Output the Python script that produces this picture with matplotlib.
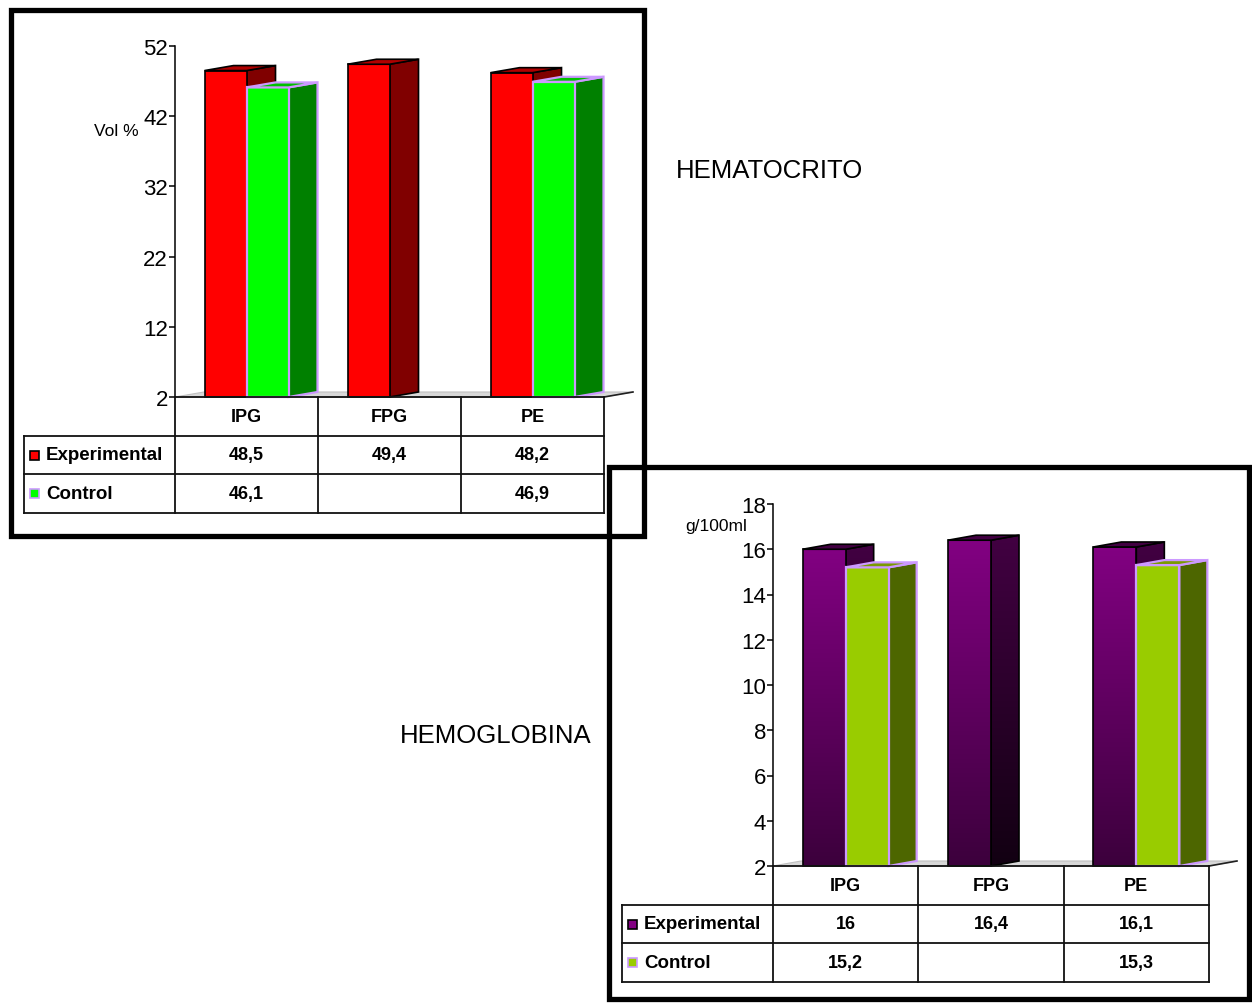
import numpy as np
import matplotlib
matplotlib.use("Agg")
import matplotlib.pyplot as plt
from matplotlib.patches import Polygon, Rectangle
from matplotlib.colors import LinearSegmentedColormap

plt.rcParams['font.family'] = ['Liberation Sans', 'DejaVu Sans']

W, H = 1252, 1004

categories = ["IPG", "FPG", "PE"]
series = ["Experimental", "Control"]

hto_exp = [48.5, 49.4, 48.2]
hto_ctl = [46.1, None, 46.9]
hto_ticks = [2, 12, 22, 32, 42, 52]

hb_exp = [16.0, 16.4, 16.1]
hb_ctl = [15.2, None, 15.3]
hb_ticks = [2, 4, 6, 8, 10, 12, 14, 16, 18]


def fmt(v):
    if v is None:
        return ""
    s = ("%.1f" % v).rstrip("0").rstrip(".")
    return s.replace(".", ",")


def px_axes(fig, x0, y0, x1, y1):
    # axes placed in pixel coordinates (origin top-left)
    return fig.add_axes([x0 / W, 1 - y1 / H, (x1 - x0) / W, (y1 - y0) / H])


def depth(ax, dxp, dyp):
    # convert a screen offset in pixels into data units
    x0, y0 = ax.transData.transform((0, 0))
    x1, y1 = ax.transData.inverted().transform((x0 + dxp, y0 + dyp))
    return x1, y1


def shaded(ax, verts, c_top, c_bot, edge, lw, z, base):
    poly = Polygon(verts, closed=True, facecolor="none", edgecolor=edge,
                   lw=lw, zorder=z + 0.5, clip_on=False, joinstyle="miter")
    ax.add_patch(poly)
    clip = Polygon(verts, closed=True, facecolor="none", edgecolor="none",
                   transform=ax.transData)
    xs = [v[0] for v in verts]
    ys = [v[1] for v in verts]
    cmap = LinearSegmentedColormap.from_list("g", [c_bot, c_top])
    grad = np.linspace(0, 1, 256).reshape(-1, 1)
    im = ax.imshow(grad, cmap=cmap, origin="lower", aspect="auto",
                   extent=[min(xs), max(xs), base, max(ys)], zorder=z,
                   interpolation="bilinear")
    im.set_clip_path(clip)


def box(ax, xl, w, base, top, dx, dy, st, z):
    front, side, lid, edge, lw = st["front"], st["side"], st["lid"], st["edge"], st["lw"]
    f = [(xl, base), (xl + w, base), (xl + w, top), (xl, top)]
    s = [(xl + w, base), (xl + w + dx, base + dy), (xl + w + dx, top + dy), (xl + w, top)]
    t = [(xl, top), (xl + w, top), (xl + w + dx, top + dy), (xl + dx, top + dy)]
    if isinstance(front, tuple):
        shaded(ax, s, side[0], side[1], edge, lw, z, base)
        shaded(ax, f, front[0], front[1], edge, lw, z + 1, base)
    else:
        ax.add_patch(Polygon(s, closed=True, fc=side, ec=edge, lw=lw, zorder=z,
                             clip_on=False, joinstyle="miter"))
        ax.add_patch(Polygon(f, closed=True, fc=front, ec=edge, lw=lw, zorder=z + 1,
                             clip_on=False, joinstyle="miter"))
    ax.add_patch(Polygon(t, closed=True, fc=lid, ec=edge, lw=lw, zorder=z + 1.6,
                         clip_on=False, joinstyle="miter"))


def chart(fig, box_px, table_px, ticks, exp, ctl, styles, ylabel, ylabel_xy, bar_px, dep_px):
    x0, y0, x1, y1 = box_px
    ax = px_axes(fig, x0, y0, x1, y1)
    ax.set_xlim(-0.5, len(categories) - 0.5)
    ax.set_ylim(ticks[0], ticks[-1])
    ax.set_autoscale_on(False)
    for sp in ["top", "right", "bottom"]:
        ax.spines[sp].set_visible(False)
    ax.spines["left"].set_linewidth(1.1)
    ax.set_xticks([])
    ax.set_yticks(ticks)
    ax.tick_params(axis="y", direction="out", length=4, width=1.1, pad=1, labelsize=16)
    ax.patch.set_alpha(0)

    colw = (x1 - x0) / len(categories)
    w = bar_px / colw
    dx, dy = depth(ax, dep_px[0], dep_px[1])
    base = ticks[0]
    dyv = dy - ax.transData.inverted().transform(ax.transData.transform((0, 0)))[1]

    # floor plane
    left, right = -0.5, len(categories) - 0.5
    ax.add_patch(Polygon([(left, base), (right, base), (right + dx, base + dyv),
                          (left + dx, base + dyv)], closed=True, fc="#d8d8d8",
                         ec="#c0c0c0", lw=0.8, zorder=1, clip_on=False))
    ax.plot([right, right + dx], [base, base + dyv], color="#202020", lw=1.2,
            zorder=1.2, clip_on=False)

    for i in range(len(categories)):
        box(ax, i - w, w, base, exp[i], dx, dyv, styles[0], 3)
        if ctl[i] is not None:
            box(ax, i, w, base, ctl[i], dx, dyv, styles[1], 6)

    fig.text(ylabel_xy[0] / W, 1 - ylabel_xy[1] / H, ylabel, fontsize=12.5,
             ha="center", va="center")

    # data table under the chart
    tx0, ty0, ty1 = table_px
    tb = px_axes(fig, tx0, ty0, x1, ty1)
    lft = -0.5 - (x0 - tx0) / colw
    tb.set_xlim(lft, right)
    tb.set_ylim(3, 0)
    tb.axis("off")
    lc = dict(color="#111111", lw=1.3, clip_on=False)
    tb.plot([left, right], [0, 0], **lc)
    for r in (1, 2, 3):
        tb.plot([lft, right], [r, r], **lc)
    for xv in np.arange(len(categories) + 1) - 0.5:
        tb.plot([xv, xv], [0, 3], **lc)
    tb.plot([lft, lft], [1, 3], **lc)
    for i, c in enumerate(categories):
        tb.text(i, 0.5, c, ha="center", va="center", fontsize=13, fontweight="bold")
    kx = lft + 6 / colw
    ks = 9 / colw
    kh = 9 / ((ty1 - ty0) / 3)
    for r, (name, vals, st) in enumerate(zip(series, (exp, ctl), styles)):
        key = st["front"][0] if isinstance(st["front"], tuple) else st["front"]
        tb.add_patch(Rectangle((kx, r + 1.5 - kh / 2), ks, kh, fc=key, ec=st["edge"],
                               lw=1.2, clip_on=False))
        tb.text(kx + ks + 7 / colw, r + 1.5, name, ha="left", va="center",
                fontsize=13.5, fontweight="bold")
        for i, v in enumerate(vals):
            tb.text(i, r + 1.5, fmt(v), ha="center", va="center", fontsize=13,
                    fontweight="bold")
    return ax


fig = plt.figure(figsize=(W / 100, H / 100), dpi=100)

hto_styles = [
    dict(front="#ff0000", side="#800000", lid="#b00000", edge="#000000", lw=1.2),
    dict(front="#00ff00", side="#008000", lid="#00c000", edge="#cc99ff", lw=1.6),
]
hb_styles = [
    dict(front=("#820082", "#3c003c"), side=("#420042", "#120012"), lid="#420042",
         edge="#000000", lw=1.2),
    dict(front="#99cc00", side="#4d6600", lid="#7a9a00", edge="#cc99ff", lw=1.6),
]

chart(fig, (175, 47, 604, 398), (24, 398, 514), hto_ticks, hto_exp, hto_ctl,
      hto_styles, "Vol %", (116, 131), 42, (29, 5))
chart(fig, (773, 505, 1209, 867), (622, 867, 983), hb_ticks, hb_exp, hb_ctl,
      hb_styles, "g/100ml", (716, 526), 43, (28, 5))

fig.text(676 / W, 1 - 171 / H, "HEMATOCRITO", fontsize=18.5, ha="left", va="center")
fig.text(400 / W, 1 - 736 / H, "HEMOGLOBINA", fontsize=18.5, ha="left", va="center")

# heavy frames around each panel
ov = fig.add_axes([0, 0, 1, 1])
ov.set_xlim(0, W)
ov.set_ylim(H, 0)
ov.axis("off")
ov.patch.set_alpha(0)
ov.add_patch(Rectangle((10.5, 10.5), 633, 526, fill=False, ec="black", lw=3.8))
ov.add_patch(Rectangle((608.5, 467.5), 640, 533, fill=False, ec="black", lw=3.8))

fig.savefig("out.png", dpi=100)
